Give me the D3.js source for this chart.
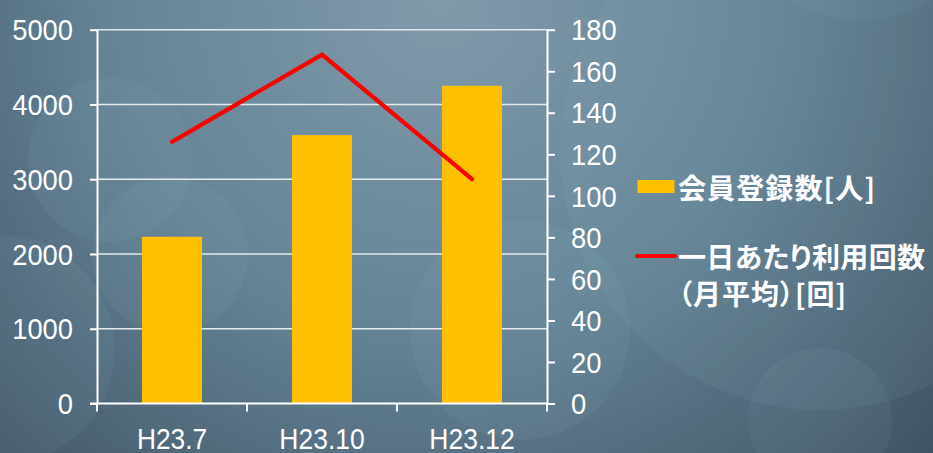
<!DOCTYPE html>
<html><head><meta charset="utf-8">
<script src="https://cdn.jsdelivr.net/npm/d3@7"></script>
<style>
html,body{margin:0;padding:0;overflow:hidden;background:#5d7386;}
svg{display:block;}
</style></head>
<body>
<script>
const categories = ["H23.7", "H23.10", "H23.12"];
const members = [2230, 3590, 4250];
const dailyUse = [126, 168, 108];
const leftTicks = [0, 1000, 2000, 3000, 4000, 5000];
const rightTicks = [0, 20, 40, 60, 80, 100, 120, 140, 160, 180];
const seriesNames = ["会員登録数[人]", "一日あたり利用回数", "（月平均）[回]"];

const W = 933, H = 453;
const svg = d3.select("body").append("svg").attr("width", W).attr("height", H);
const defs = svg.append("defs");
const rg = defs.append("radialGradient").attr("id","bg").attr("gradientUnits","userSpaceOnUse")
  .attr("cx",440).attr("cy",0).attr("r",720);
rg.append("stop").attr("offset","0").attr("stop-color","#809aab");
rg.append("stop").attr("offset","0.45").attr("stop-color","#658597");
rg.append("stop").attr("offset","1").attr("stop-color","#3a4c5e");
svg.append("rect").attr("width",W).attr("height",H).attr("fill","url(#bg)");

// decorative background circles
const deco = [[110,160,82],[170,255,78],[0,350,115],[520,330,110],[820,420,72],[860,-120,140],[820,150,260]];
svg.append("g").selectAll("circle").data(deco).join("circle")
  .attr("cx",d=>d[0]).attr("cy",d=>d[1]).attr("r",d=>d[2])
  .attr("fill","#9cc3cc").attr("fill-opacity",0.08);

const x = d3.scaleBand().domain(categories).range([97, 547]).padding(0);
const yL = d3.scaleLinear().domain([0, 5000]).range([403.5, 29.7]);
const yR = d3.scaleLinear().domain([0, 180]).range([403.5, 29.7]);

const numFont = "'Liberation Sans','Arial',sans-serif";
function narrowLen(t){
  let w = 0;
  for (const c of t) w += c === "H" ? 18 : c === "." ? 6.5 : 15.2;
  return w;
}

// gridlines
svg.append("g").selectAll("line").data(leftTicks.filter(d=>d>0)).join("line")
  .attr("x1",97).attr("x2",547).attr("y1",d=>yL(d)).attr("y2",d=>yL(d))
  .attr("stroke","#e4e9ed").attr("stroke-width",1.6);

// bars
const bw = x.bandwidth()*0.4;
svg.append("g").selectAll("rect").data(members).join("rect")
  .attr("x",(d,i)=>x(categories[i]) + x.bandwidth()/2 - bw/2)
  .attr("width",bw)
  .attr("y",d=>yL(d)).attr("height",d=>yL(0)-yL(d))
  .attr("fill","#ffc000");

// line
const line = d3.line().x((d,i)=>x(categories[i]) + x.bandwidth()/2).y(d=>yR(d));
svg.append("path").datum(dailyUse).attr("d",line)
  .attr("fill","none").attr("stroke","#ff0000").attr("stroke-width",4.2)
  .attr("stroke-linecap","round").attr("stroke-linejoin","miter");

// axes
function styleAxis(g){
  g.selectAll("path.domain").attr("stroke","#ffffff").attr("stroke-width",2);
  g.selectAll(".tick line").attr("stroke","#ffffff").attr("stroke-width",2);
  g.selectAll("text").attr("fill","#ffffff").style("font-family",numFont).style("font-size","30px")
    .attr("lengthAdjust","spacingAndGlyphs")
    .attr("textLength",function(){ return narrowLen(this.textContent); });
}
const axL = svg.append("g").attr("transform","translate(97,0)")
  .call(d3.axisLeft(yL).tickValues(leftTicks).tickFormat(d3.format("d")).tickSize(7).tickSizeOuter(0).tickPadding(17));
styleAxis(axL);
axL.selectAll("text").attr("dy","0.34em");

const axR = svg.append("g").attr("transform","translate(547,0)")
  .call(d3.axisRight(yR).tickValues(rightTicks).tickFormat(d3.format("d")).tickSize(8).tickSizeOuter(0).tickPadding(16));
styleAxis(axR);
axR.selectAll("text").attr("dy","0.34em");

const axB = svg.append("g").attr("transform","translate(0,403.5)")
  .call(d3.axisBottom(x).tickSize(0).tickSizeOuter(0).tickPadding(0));
styleAxis(axB);
axB.select("path.domain").attr("d","M90,0H547");
axB.selectAll(".tick text").attr("y",45.5).attr("dy",0);
// boundary ticks on the category axis
axB.append("g").selectAll("line").data([0,1,2,3]).join("line")
  .attr("x1",i=>97+i*x.step()).attr("x2",i=>97+i*x.step())
  .attr("y1",0).attr("y2",8).attr("stroke","#fff").attr("stroke-width",2);

// legend
const cjk = "'Noto Sans CJK JP','Noto Sans CJK SC',sans-serif";
const lg = svg.append("g");
lg.append("rect").attr("x",637.5).attr("y",180).attr("width",37).attr("height",13).attr("fill","#ffc000");
lg.append("line").attr("x1",637).attr("x2",675).attr("y1",256).attr("y2",256)
  .attr("stroke","#ff0000").attr("stroke-width",4).attr("stroke-linecap","round");
const lt = lg.append("g").attr("fill","#fff").style("font-family",cjk).style("font-size","28px").style("font-weight","bold")
  .style("font-feature-settings","'palt'");
lt.append("text").attr("x",678).attr("y",199).attr("textLength",197).attr("lengthAdjust","spacing").text(seriesNames[0]);
lt.append("text").attr("x",678).attr("y",268).attr("textLength",247).attr("lengthAdjust","spacing").text(seriesNames[1]);
lt.append("text").attr("x",678).attr("y",305).attr("textLength",168).attr("lengthAdjust","spacing").text(seriesNames[2]);
</script>
</body></html>
